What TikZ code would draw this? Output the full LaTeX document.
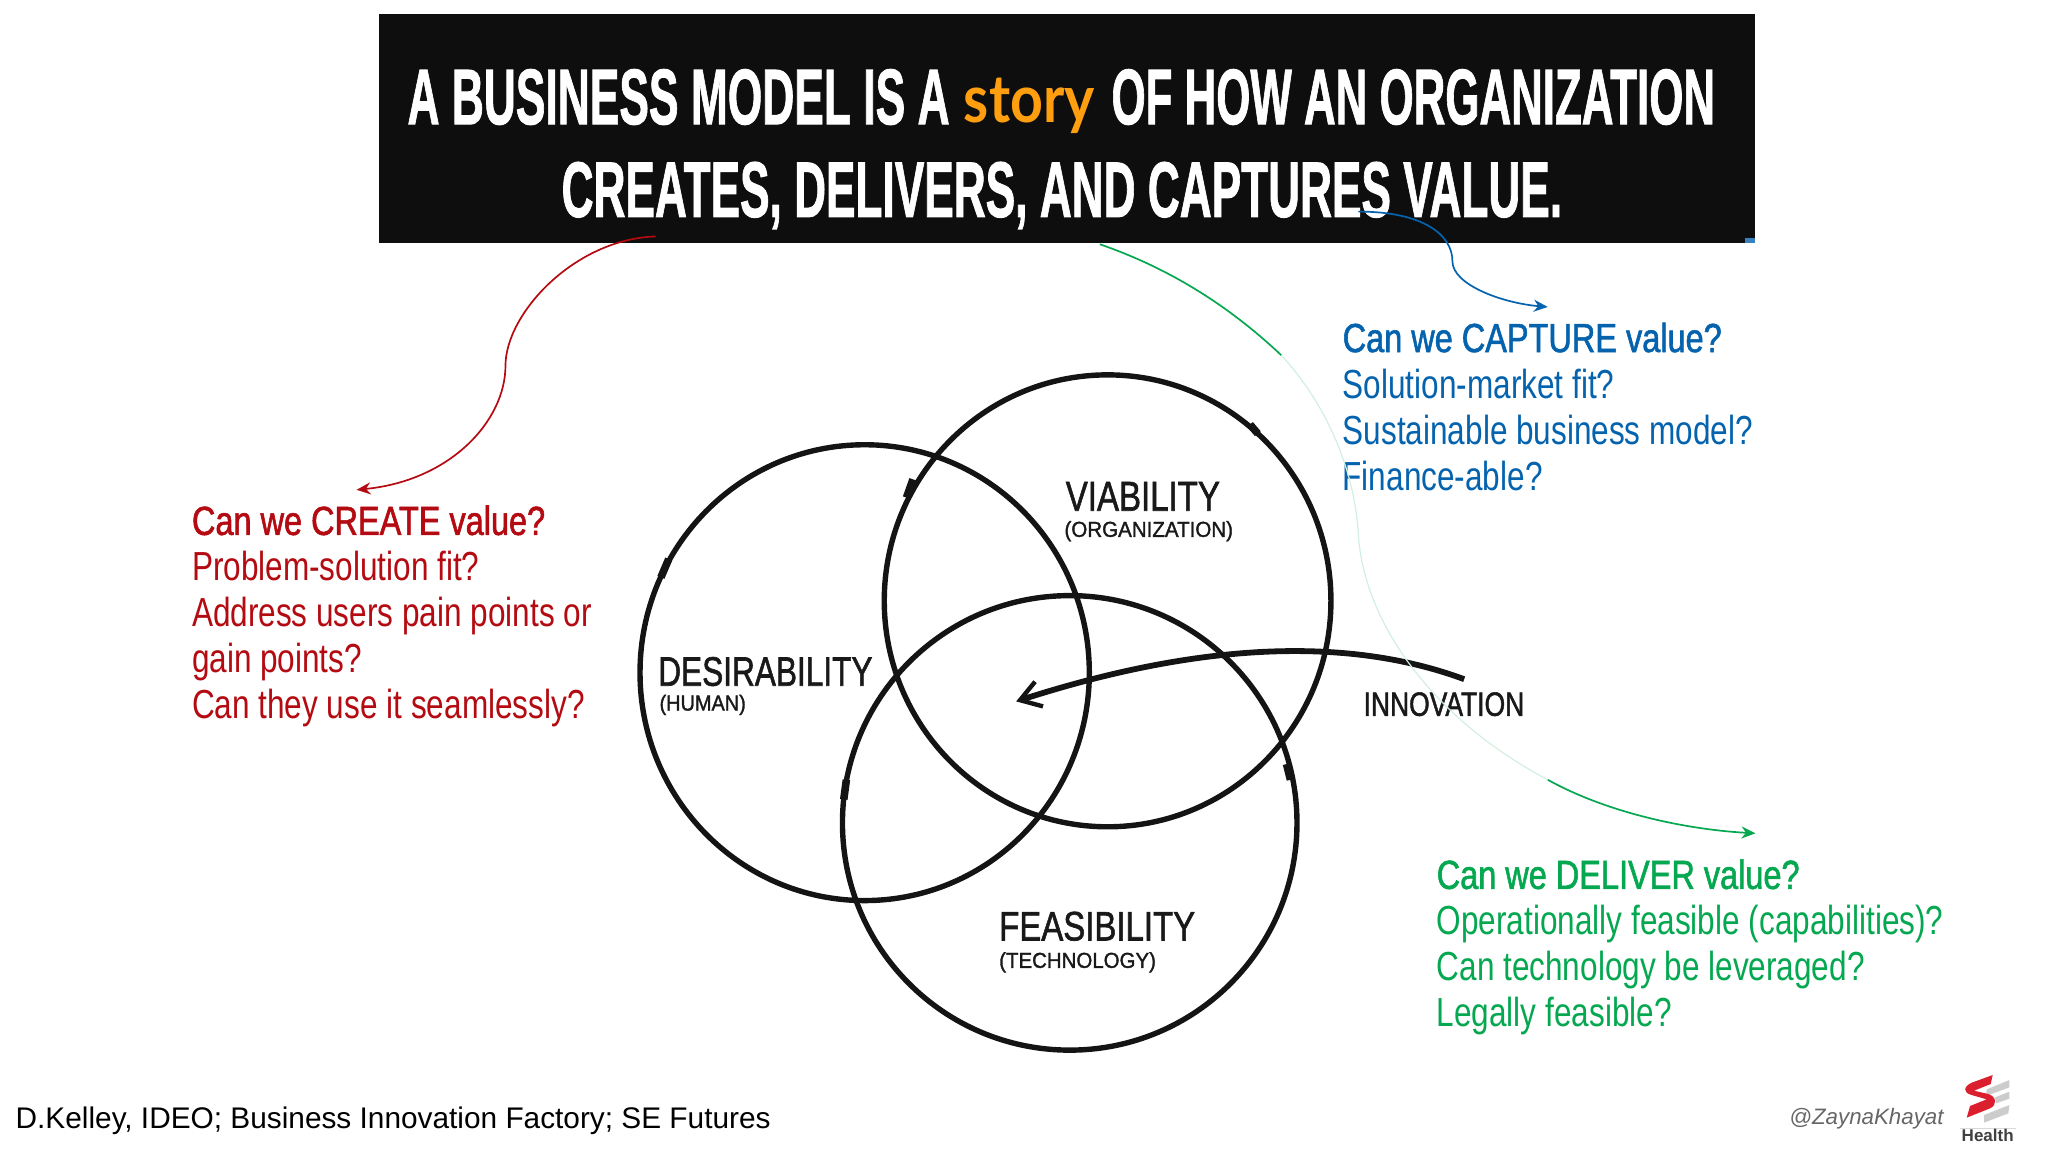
\documentclass[tikz,border=0pt]{standalone}
\usepackage{graphicx}
\usepackage{fontspec}
\usetikzlibrary{arrows.meta,shapes.geometric}
\setmainfont{Liberation Sans}
\newfontfamily\bodyfont[FakeStretch=0.777]{Liberation Sans}
\newfontfamily\headfont[FakeStretch=0.80,FakeBold=1.4]{Liberation Sans}
\newfontfamily\storyfont{Lato}
\newfontfamily\heavyfont[FakeBold=1.4]{Liberation Sans Bold}
\newfontfamily\handfont[FakeBold=1.6]{Liberation Sans}
\newdimen\pxu \pxu=0.65306pt
\newcommand\fitbox[3]{\resizebox{#1\pxu}{#2\pxu}{#3}}
\definecolor{redc}{HTML}{B40A12}
\definecolor{bluec}{HTML}{0563AE}
\definecolor{greenc}{HTML}{05A850}
\definecolor{storyc}{HTML}{FF9E0F}
\definecolor{titlebg}{HTML}{0E0E0E}
\definecolor{logored}{HTML}{DC1F2E}
\tikzset{
  lab/.style={inner sep=0pt,outer sep=0pt,anchor=base west},
  titletext/.style={lab,text=white,font=\heavyfont},
  hand/.style={lab,text=black!90,font=\handfont},
  block/.style={inner sep=0pt,outer sep=0pt,anchor=north west,align=left,font=\bodyfont\fontsize{20.3}{23}\selectfont},
  venn/.style={draw=black!92,line width=2.7pt,ellipse,inner sep=0pt,minimum width=#1},
  pen/.style={black!92,line width=3.8pt},
  link/.style={line width=0.85pt},
  tip/.style={-{Stealth[length=7pt,width=6pt]}},
}
\begin{document}
\begin{tikzpicture}[x=0.65306pt,y=-0.65306pt]
\useasboundingbox (0,0) rectangle (1568,882);
% title banner
\node[fill=titlebg,inner sep=0pt,minimum width=1054\pxu,minimum height=175\pxu] (banner) at (817,98.5) {};
\fill[bluec!80] (1336,182) rectangle (1344,186);
\node[titletext] (t1) at (312,95) {\fitbox{415}{42}{A BUSINESS MODEL IS A}};
\node[lab,text=storyc,font=\storyfont\bfseries] (t2) at (738,94) {\fitbox{100}{34}{story}};
\node[titletext] (t3) at (851,95) {\fitbox{462}{42}{OF HOW AN ORGANIZATION}};
\node[titletext] (t4) at (430,166) {\fitbox{766}{42}{CREATES, DELIVERS, AND CAPTURES VALUE.}};
% venn
\node[venn=344\pxu,minimum height=349\pxu] (desir) at (662,515) {};
\node[venn=342\pxu,minimum height=346\pxu] (viab) at (848,460) {};
\node[venn=348\pxu,minimum height=348\pxu] (feas) at (819,630) {};
\draw[pen] (694,381) -- (699,367);
\draw[pen] (957,325) -- (963,332);
\draw[pen] (506,442) -- (512,428);
\draw[pen] (646,612) -- (648,597);
\draw[pen] (985,585) -- (988,597);
\node[hand] (l1) at (504,525) {\fitbox{164}{22}{DESIRABILITY}};
\node[hand] (l2) at (505,544) {\fitbox{66}{12}{(HUMAN)}};
\node[hand] (l3) at (816,391) {\fitbox{118}{22}{VIABILITY}};
\node[hand] (l4) at (815,411) {\fitbox{129}{12}{(ORGANIZATION)}};
\node[hand] (l5) at (765,720) {\fitbox{150}{22}{FEASIBILITY}};
\node[hand] (l6) at (765,741) {\fitbox{120}{12}{(TECHNOLOGY)}};
\node[hand] (l7) at (1044,548) {\fitbox{123}{18}{INNOVATION}};
% innovation arrow
\coordinate (innoS) at (1121,520);
\coordinate (innoE) at (778,537);
\draw[line width=2.9pt,black!92,{Straight Barb[length=10pt,width=13pt,line width=2.2pt]}-] (innoE) .. controls (930,488) and (1040,490) .. (innoS);
% text blocks
\node[block,text=redc] (create) at (147,387) {{\headfont Can we CREATE value?}\\Problem-solution fit?\\Address users pain points or\\gain points?\\Can they use it seamlessly?};
\node[block,text=bluec] (capture) at (1028,247) {{\headfont Can we CAPTURE value?}\\Solution-market fit?\\Sustainable business model?\\Finance-able?};
\node[block,text=greenc] (deliver) at (1100,658) {{\headfont Can we DELIVER value?}\\Operationally feasible (capabilities)?\\Can technology be leveraged?\\Legally feasible?};
% connectors
\coordinate (rS) at (502,181); \coordinate (rM) at (387,280); \coordinate (rE) at (273,375);
\draw[link,redc,tip] (rS) .. controls (440,183) and (387,240) .. (rM) .. controls (387,322) and (345,368) .. (rE);
\coordinate (bS) at (1040,162); \coordinate (bM) at (1112,200); \coordinate (bE) at (1185,235);
\draw[link,bluec,tip] (bS) .. controls (1090,162) and (1112,180) .. (bM) .. controls (1112,218) and (1150,232) .. (bE);
\coordinate (gS) at (842,187); \coordinate (g1) at (981,272); \coordinate (g2) at (1040,410); \coordinate (g3) at (1185,597); \coordinate (gE) at (1344,638);
\draw[link,greenc] (gS) .. controls (900,207) and (945,238) .. (g1);
\draw[line width=0.6pt,greenc!18] (g1) .. controls (1018,312) and (1038,365) .. (g2) .. controls (1045,480) and (1100,552) .. (g3);
\draw[link,greenc,tip] (g3) .. controls (1230,622) and (1290,635) .. (gE);
% footer
\node[lab,text=black] (foot) at (12,864) {\resizebox{578\pxu}{!}{D.Kelley, IDEO; Business Innovation Factory; SE Futures}};
\node[lab,text=black!60] (zk) at (1370,861) {\resizebox{118\pxu}{!}{\itshape @ZaynaKhayat}};
% logo
\begin{scope}[shift={(870pt,-525pt)},x=0.16667pt,y=-0.16667pt]
\fill[black!20] (808,90) -- (740,118) -- (738,138) -- (808,112) -- cycle;
\fill[black!20] (808,125) -- (765,142) -- (768,160) -- (808,146) -- cycle;
\fill[black!20] (808,165) -- (732,195) -- (732,218) -- (805,190) -- cycle;
\fill[logored] (758,75) -- (695,98) .. controls (670,110) and (668,128) .. (695,135) -- (740,148) -- (690,168) -- (680,203) -- (750,175) .. controls (772,165) and (770,140) .. (745,132) -- (702,122) -- (752,102) -- cycle;
\draw[black!15,line width=0.8pt] (660,236) -- (828,236);
\node[inner sep=0pt,text=black!75,font=\bfseries\fontsize{8.5}{10}\selectfont] (health) at (743,257) {Health};
\end{scope}
\end{tikzpicture}
\end{document}
